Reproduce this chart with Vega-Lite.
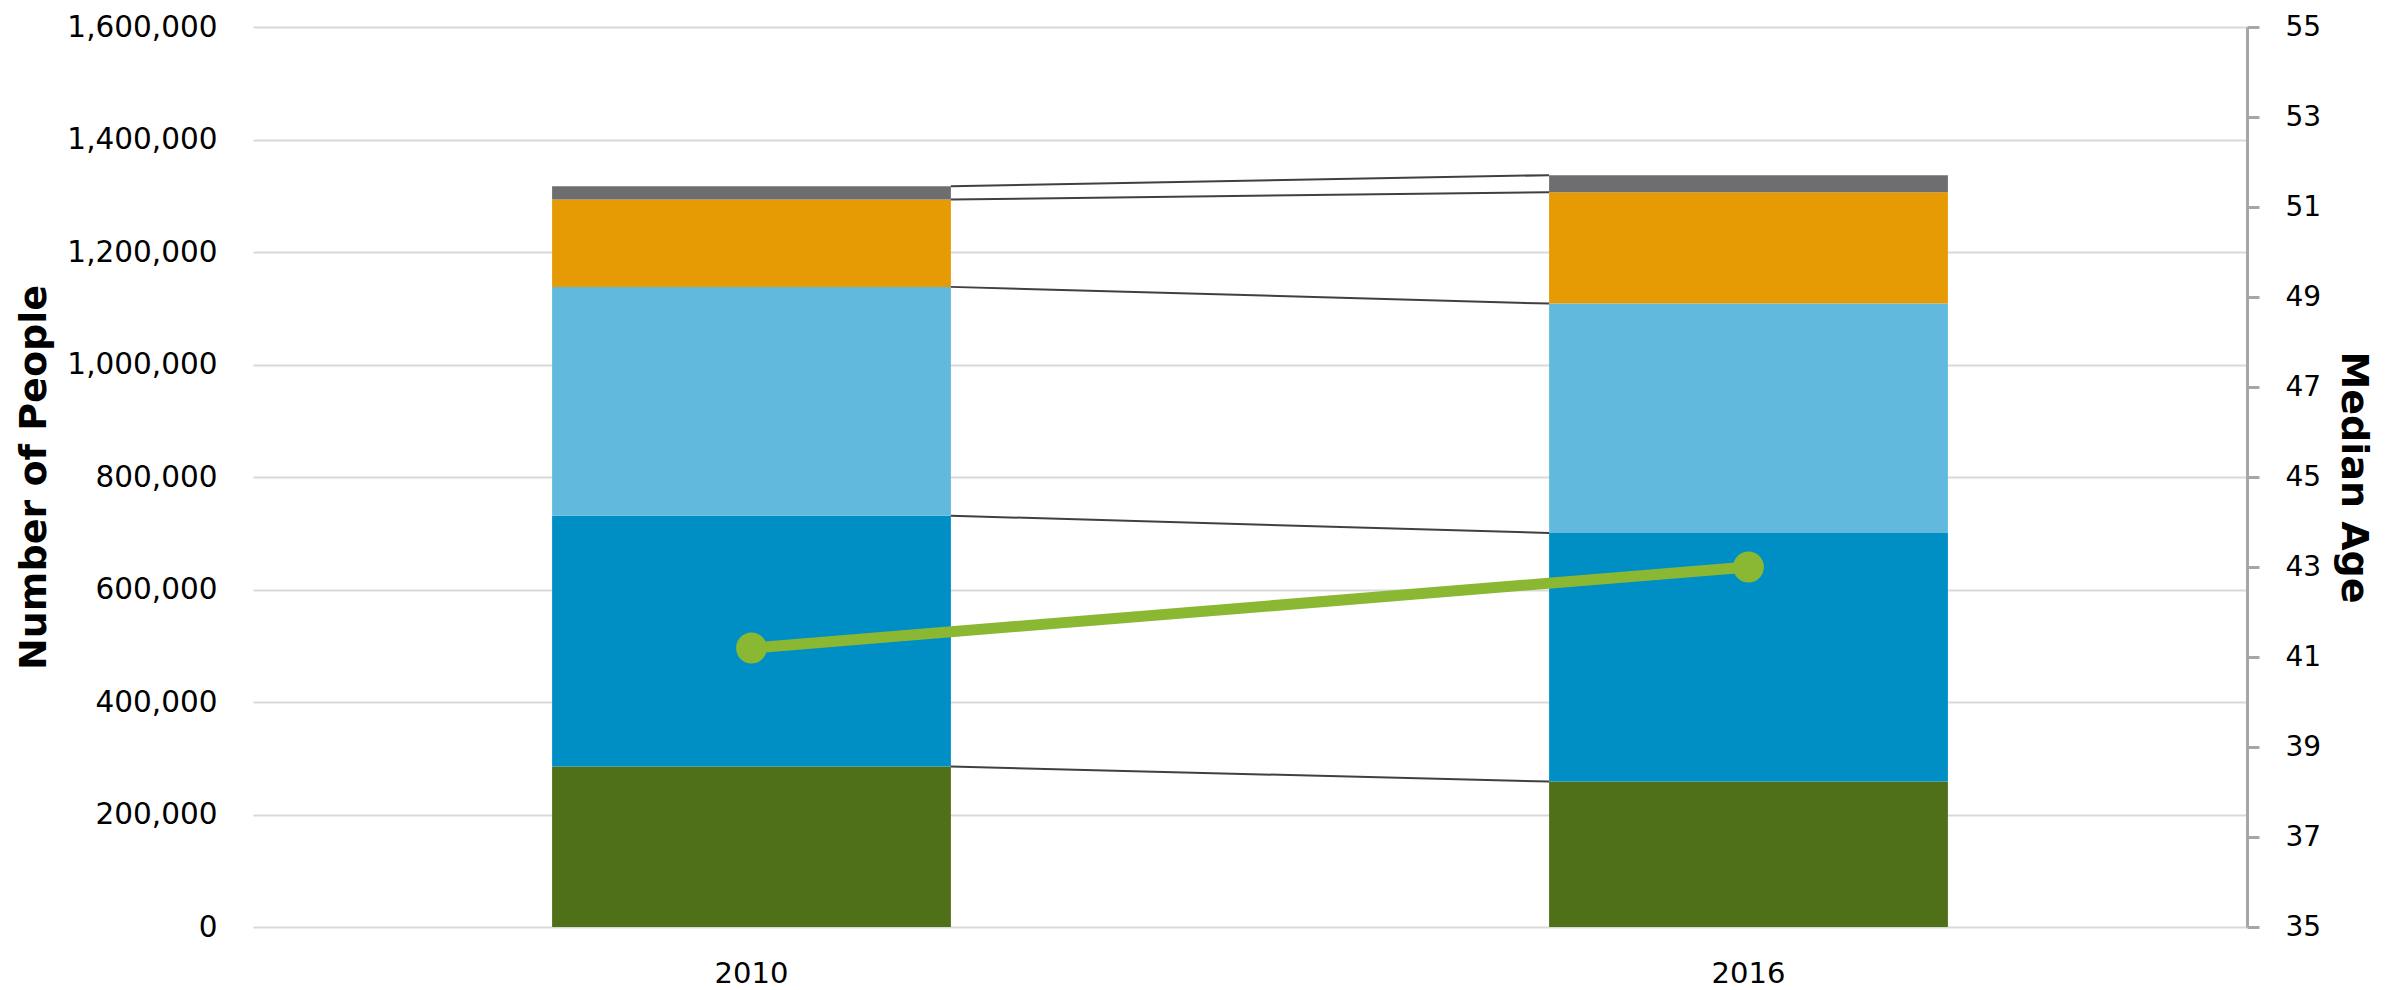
{
  "$schema": "https://vega.github.io/schema/vega-lite/v6.json",
  "autosize": {"type": "none"},
  "width": 1994,
  "height": 900,
  "padding": {"left": 253, "top": 27, "right": 155, "bottom": 63},
  "background": "white",
  "config": {"view": {"stroke": null}, "font": "DejaVu Sans"},
  "datasets": {
    "pop": [
      {"year": "2010", "group": "Under 18", "order": 1, "value": 285200},
      {"year": "2010", "group": "18-44", "order": 2, "value": 446000},
      {"year": "2010", "group": "45-64", "order": 3, "value": 406800},
      {"year": "2010", "group": "65-84", "order": 4, "value": 155300},
      {"year": "2010", "group": "85+", "order": 5, "value": 23700},
      {"year": "2016", "group": "Under 18", "order": 1, "value": 258500},
      {"year": "2016", "group": "18-44", "order": 2, "value": 441900},
      {"year": "2016", "group": "45-64", "order": 3, "value": 407900},
      {"year": "2016", "group": "65-84", "order": 4, "value": 198000},
      {"year": "2016", "group": "85+", "order": 5, "value": 30300}
    ],
    "age": [
      {"year": "2010", "median_age": 41.2},
      {"year": "2016", "median_age": 43.0}
    ]
  },
  "layer": [
    {
      "layer": [
        {
          "data": {"name": "pop"},
          "mark": {"type": "bar"},
          "encoding": {
            "x": {
              "field": "year", "type": "nominal",
              "scale": {"paddingInner": 0.6, "paddingOuter": 0.3},
              "axis": {"title": null, "labelAngle": 0, "labelFontSize": 29, "labelColor": "#000000", "labelPadding": 32, "ticks": false, "domain": false, "grid": false}
            },
            "y": {
              "field": "value", "type": "quantitative", "stack": "zero",
              "scale": {"domain": [0, 1600000], "nice": false},
              "axis": {
                "title": "Number of People", "values": [0, 200000, 400000, 600000, 800000, 1000000, 1200000, 1400000, 1600000],
                "format": ",d", "labelFontSize": 29.5, "labelColor": "#000000", "labelPadding": 36,
                "ticks": false, "domain": false, "grid": true, "gridColor": "#d9d9d9", "gridWidth": 2,
                "titleFontSize": 38, "titleFontWeight": "bold", "titleColor": "#000000",
                "titleAngle": -90, "titleX": -219, "titleY": 450, "titleAlign": "center", "titleBaseline": "middle"
              }
            },
            "color": {
              "field": "group", "type": "nominal",
              "scale": {"domain": ["Under 18", "18-44", "45-64", "65-84", "85+"], "range": ["#4f6f19", "#008fc5", "#62b9de", "#e69b04", "#6e6e70"]},
              "legend": null
            },
            "order": {"field": "order", "type": "quantitative"}
          }
        },
        {
          "data": {"name": "pop"},
          "transform": [
            {"stack": "value", "groupby": ["year"], "sort": [{"field": "order"}], "as": ["lo", "hi"]},
            {"pivot": "year", "value": "hi", "groupby": ["group"]}
          ],
          "mark": {"type": "rule", "color": "#404040", "strokeWidth": 2},
          "encoding": {
            "x": {"datum": "2010", "type": "nominal", "bandPosition": 1},
            "x2": {"datum": "2016", "bandPosition": 0},
            "y": {"field": "2010", "type": "quantitative", "title": "Number of People"},
            "y2": {"field": "2016"}
          }
        }
      ]
    },
    {
      "data": {"name": "age"},
      "encoding": {
        "x": {"field": "year", "type": "nominal"},
        "y": {
          "field": "median_age", "type": "quantitative",
          "scale": {"domain": [35, 55], "nice": false, "zero": false},
          "axis": {
            "orient": "right", "title": "Median Age", "values": [35, 37, 39, 41, 43, 45, 47, 49, 51, 53, 55],
            "labelFontSize": 28, "labelColor": "#000000", "labelPadding": 26, "grid": false,
            "domainColor": "#a6a6a6", "domainWidth": 3, "tickColor": "#a6a6a6", "tickSize": 12, "tickWidth": 3,
            "titleFontSize": 38, "titleFontWeight": "bold", "titleColor": "#000000",
            "titleAngle": 90, "titleX": 105, "titleY": 450, "titleAlign": "center", "titleBaseline": "middle"
          }
        }
      },
      "layer": [
        {"mark": {"type": "line", "color": "#8ab833", "strokeWidth": 11}},
        {"mark": {"type": "point", "filled": true, "color": "#8ab833", "size": 950, "opacity": 1}}
      ]
    }
  ],
  "resolve": {"scale": {"y": "independent"}}
}
